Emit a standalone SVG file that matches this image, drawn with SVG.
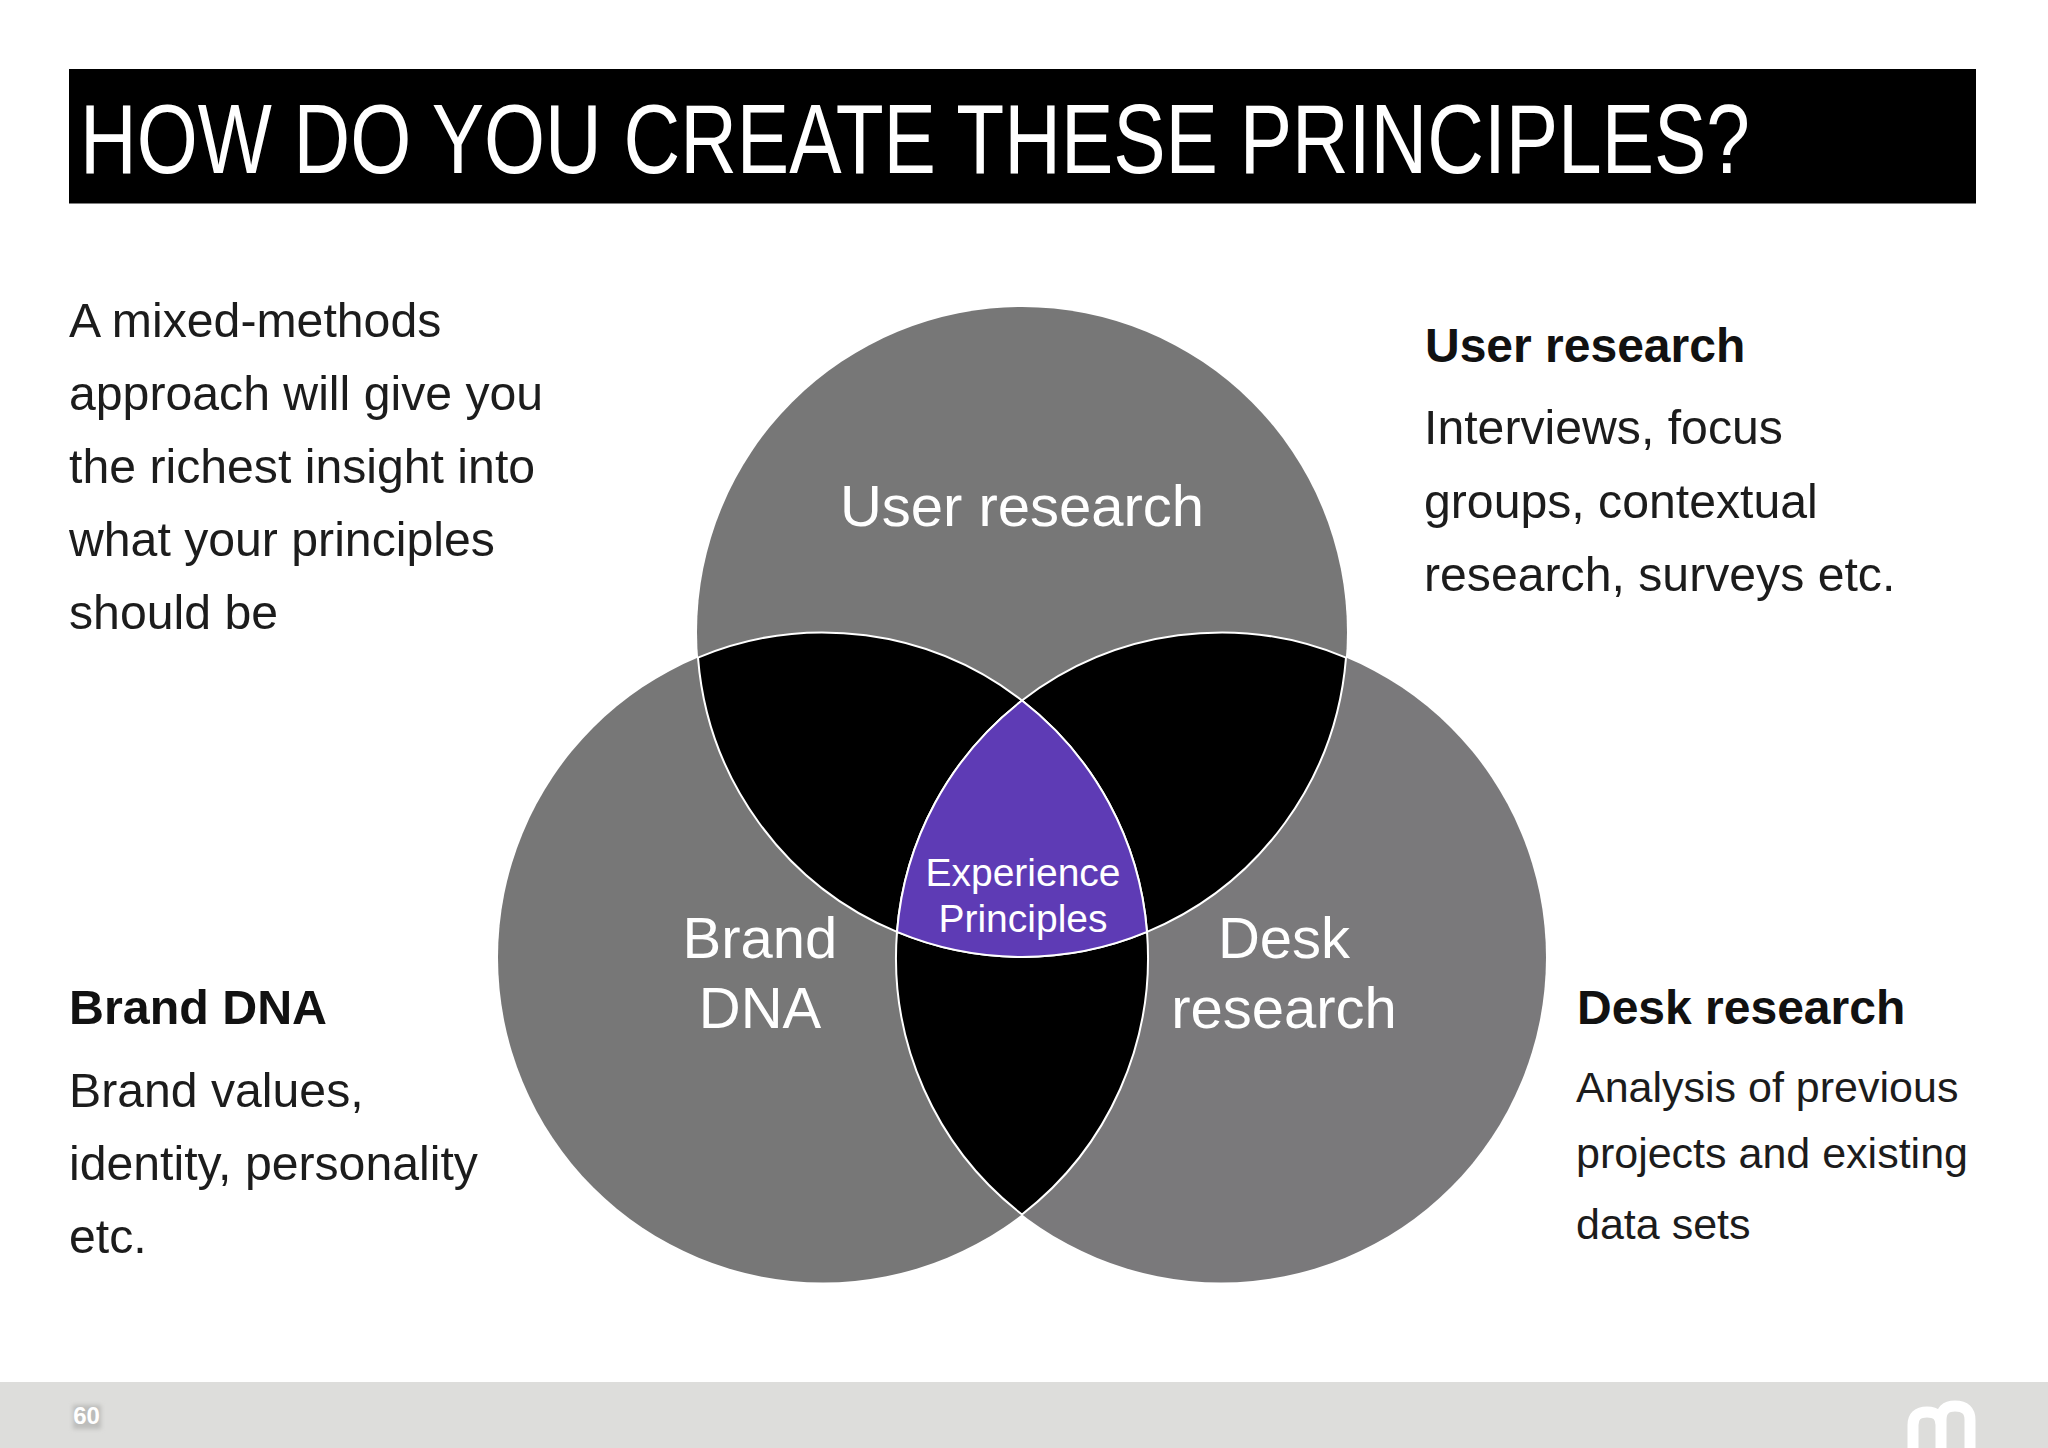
<svg xmlns="http://www.w3.org/2000/svg" width="2048" height="1448" viewBox="0 0 2048 1448">
<style>
text{font-family:"Liberation Sans",Arial,sans-serif}
.body{font-size:48.2px;fill:#1c1c1c}
.bold{font-size:48px;font-weight:bold;fill:#111}
.small{font-size:43px;fill:#1c1c1c}
.circ{font-size:58px;fill:#fff;text-anchor:middle}
.exp{font-size:39px;fill:#fff;text-anchor:middle}
.lens{fill:#000;stroke:#fff;stroke-width:2}
</style>
<defs><filter id="soft" x="-30%" y="-30%" width="160%" height="160%"><feGaussianBlur stdDeviation="2"/></filter></defs>
<rect width="2048" height="1448" fill="#fff"/>
<g id="title"><rect x="69" y="69" width="1907" height="134.500" fill="#000"/>
<text x="80" y="173" font-size="98" fill="#fff" textLength="1670" lengthAdjust="spacingAndGlyphs">HOW DO YOU CREATE THESE PRINCIPLES?</text></g>
<g id="intro"><text class="body" x="69" y="337">A mixed-methods</text><text class="body" x="69" y="410">approach will give you</text><text class="body" x="69" y="483">the richest insight into</text><text class="body" x="69" y="556">what your principles</text><text class="body" x="69" y="629">should be</text></g>
<g id="circle-user"><circle cx="1022" cy="632" r="325" fill="#777777"/></g>
<g id="circle-brand"><circle cx="823" cy="957.500" r="325" fill="#777777"/></g>
<g id="circle-desk"><circle cx="1221" cy="957.500" r="325" fill="#7a797b"/></g>
<g id="overlaps">
<path class="lens" d="M698 657.550A325 325 0 0 1 1022 700.550A325 325 0 0 0 897 931.950A325 325 0 0 1 698 657.550Z"/>
<path class="lens" d="M1346 657.550A325 325 0 0 0 1022 700.550A325 325 0 0 1 1147 931.950A325 325 0 0 0 1346 657.550Z"/>
<path class="lens" d="M897 931.950A325 325 0 0 0 1147 931.950A325 325 0 0 1 1022 1214.450A325 325 0 0 1 897 931.950Z"/>
<path d="M1022 700.550A325 325 0 0 1 1147 931.950A325 325 0 0 1 897 931.950A325 325 0 0 1 1022 700.550Z" fill="#5e3bb5" stroke="#fff" stroke-width="2"/>
</g>
<g id="label-user"><text class="circ" x="1022" y="526">User research</text></g>
<g id="label-brand"><text class="circ" x="760" y="958">Brand</text><text class="circ" x="760" y="1028">DNA</text></g>
<g id="label-desk"><text class="circ" x="1284" y="958">Desk</text><text class="circ" x="1284" y="1028">research</text></g>
<g id="label-center"><text class="exp" x="1023" y="886">Experience</text><text class="exp" x="1023" y="932">Principles</text></g>
<g id="note-user"><text class="bold" x="1425" y="362">User research</text><text class="body" x="1424" y="444">Interviews, focus</text><text class="body" x="1424" y="518">groups, contextual</text><text class="body" x="1424" y="591">research, surveys etc.</text></g>
<g id="note-brand"><text class="bold" x="69" y="1024" textLength="258" lengthAdjust="spacingAndGlyphs">Brand DNA</text><text class="body" x="69" y="1107">Brand values,</text><text class="body" x="69" y="1180">identity, personality</text><text class="body" x="69" y="1253">etc.</text></g>
<g id="note-desk"><text class="bold" x="1577" y="1024">Desk research</text><text class="small" x="1576" y="1102">Analysis of previous</text><text class="small" x="1576" y="1168">projects and existing</text><text class="small" x="1576" y="1239">data sets</text></g>
<g id="footer"><rect x="0" y="1382" width="2048" height="66" fill="#dddddb"/>
<rect x="73" y="1405" width="28" height="24" fill="#bdbdbb" filter="url(#soft)"/>
<text x="86.500" y="1424" font-size="24" font-weight="bold" fill="#fff" text-anchor="middle">60</text>
<path d="M1913 1448V1425Q1913 1412 1927 1412Q1941 1412 1941 1425V1448M1941 1425V1420Q1941 1406 1955 1406Q1970 1406 1970 1420V1448" fill="none" stroke="#fff" stroke-width="11"/></g>
</svg>
